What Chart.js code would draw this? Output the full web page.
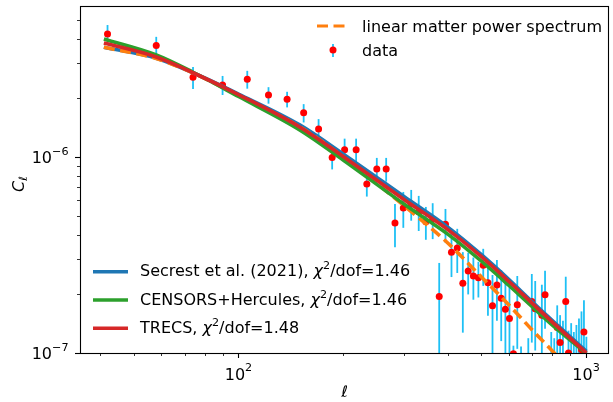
<!DOCTYPE html>
<html>
<head>
<meta charset="utf-8">
<script src="https://cdn.jsdelivr.net/npm/chart.js@4"></script>
<style>
  html, body { margin: 0; padding: 0; background: #fff; }
</style>
</head>
<body>
<canvas id="clChart" width="613" height="402"></canvas>
<script>
// binned angular power spectrum
const ell = [42, 58, 74, 90, 106, 122, 138, 154, 170, 186, 202, 218, 234, 250, 266, 282, 298, 314, 330, 346,
  362, 378, 394, 410, 426, 442, 458, 474, 490, 506, 522, 538, 554, 570, 586, 602, 618, 634, 650, 666,
  682, 698, 714, 730, 746, 762, 778, 794, 810, 826, 842, 858, 874, 890, 906, 922, 938, 954, 970, 986, 1002];
const cl = [4.24e-6, 3.70e-6, 2.55e-6, 2.33e-6, 2.49e-6, 2.07e-6, 1.97e-6, 1.68e-6, 1.39e-6, 0.994e-6,
  1.09e-6, 1.09e-6, 0.728e-6, 0.869e-6, 0.869e-6, 0.461e-6, 0.549e-6, 0.576e-6, 0.526e-6, 0.467e-6,
  0.481e-6, 0.194e-6, 0.454e-6, 0.327e-6, 0.343e-6, 0.227e-6, 0.262e-6, 0.247e-6, 0.242e-6, 0.280e-6,
  0.228e-6, 0.174e-6, 0.222e-6, 0.190e-6, 0.167e-6, 0.150e-6, 0.99e-7, 1.76e-7, 0.5e-7, 0.3e-7,
  0.6e-7, 1.83e-7, 1.68e-7, 0.5e-7, 1.56e-7, 1.98e-7, 0.4e-7, 0.7e-7, 0.6e-7, 1.35e-7,
  1.13e-7, 0.9e-7, 1.83e-7, 1.0e-7, 0.8e-7, 0.7e-7, 0.8e-7, 0.9e-7, 1.04e-7, 1.28e-7, 0.6e-7];
const clErr = [0.47e-6, 0.40e-6, 0.33e-6, 0.26e-6, 0.26e-6, 0.20e-6, 0.18e-6, 0.18e-6, 0.17e-6, 0.13e-6,
  0.15e-6, 0.15e-6, 0.10e-6, 0.12e-6, 0.12e-6, 0.115e-6, 0.114e-6, 0.103e-6, 0.107e-6, 0.089e-6,
  0.10e-6, 0.094e-6, 0.089e-6, 0.083e-6, 0.087e-6, 0.10e-6, 0.063e-6, 0.06e-6, 0.05e-6, 0.06e-6,
  0.073e-6, 0.076e-6, 0.076e-6, 0.075e-6, 0.077e-6, 0.08e-6, 0.1e-7, 0.71e-7, 0.58e-7, 0.4e-7,
  0.59e-7, 0.70e-7, 0.65e-7, 0.4e-7, 0.67e-7, 0.65e-7, 0.4e-7, 0.58e-7, 0.59e-7, 0.40e-7,
  0.43e-7, 0.56e-7, 0.62e-7, 0.3e-7, 0.62e-7, 0.58e-7, 0.59e-7, 0.6e-7, 0.59e-7, 0.58e-7, 0.61e-7];

// model curves
const modelEll = [41, 58, 74, 100, 150, 200, 300, 400, 500, 600, 700, 800, 1002];
const linearPk = [3.628e-6, 3.181e-6, 2.683e-6, 2.060e-6, 1.423e-6, 1.0e-6, 0.5623e-6, 0.3641e-6, 0.2442e-6, 0.1757e-6, 0.1310e-6, 0.1024e-6, 0.0671e-6];
const secrest = [3.627e-6, 3.188e-6, 2.689e-6, 2.094e-6, 1.457e-6, 1.036e-6, 0.6266e-6, 0.4389e-6, 0.3173e-6, 0.2371e-6, 0.1825e-6, 0.1464e-6, 0.1019e-6];
const censors = [3.998e-6, 3.314e-6, 2.705e-6, 2.034e-6, 1.374e-6, 0.9655e-6, 0.5738e-6, 0.4042e-6, 0.2939e-6, 0.2210e-6, 0.1721e-6, 0.1388e-6, 0.0995e-6];
const trecs = [3.815e-6, 3.237e-6, 2.689e-6, 2.082e-6, 1.423e-6, 1.006e-6, 0.6049e-6, 0.4262e-6, 0.3099e-6, 0.2316e-6, 0.1793e-6, 0.1438e-6, 0.1001e-6];

// axis ticks
const xMajorTicks = [100, 1000];
const xTickExp = ['2', '3'];
const xMinorTicks = [40, 50, 60, 70, 80, 90, 200, 300, 400, 500, 600, 700, 800, 900];
const yMajorTicks = [1e-7, 1e-6];
const yTickExp = ['\u22127', '\u22126'];
const yMinorTicks = [2e-7, 3e-7, 4e-7, 5e-7, 6e-7, 7e-7, 8e-7, 9e-7, 2e-6, 3e-6, 4e-6, 5e-6];

const modelLabels = [
  ['Secrest et al. (2021), ', '/dof=1.46', '#1f77b4'],
  ['CENSORS+Hercules, ', '/dof=1.46', '#2ca02c'],
  ['TRECS, ', '/dof=1.48', '#d62728'],
];

const FONT = '"DejaVu Sans", sans-serif';
const ERR_COLOR = '#1ec0f5';

const pts = (xs, ys) => xs.map((x, i) => ({ x: x, y: ys[i] }));

// text made of runs: [text, size, italic, rise]
function drawRuns(ctx, runs, x, y, align) {
  let total = 0;
  const widths = runs.map(r => {
    ctx.font = (r[2] ? 'italic ' : '') + r[1] + 'px ' + FONT;
    const w = ctx.measureText(r[0]).width;
    total += w;
    return w;
  });
  let cx = align === 'right' ? x - total : align === 'center' ? x - total / 2 : x;
  runs.forEach((r, i) => {
    ctx.font = (r[2] ? 'italic ' : '') + r[1] + 'px ' + FONT;
    ctx.fillText(r[0], cx, y - (r[3] || 0));
    cx += widths[i];
  });
}

const errorBars = {
  id: 'errorBars',
  beforeDatasetsDraw(chart) {
    const { ctx, chartArea: a, scales: { x, y } } = chart;
    ctx.save();
    ctx.beginPath();
    ctx.rect(a.left, a.top, a.right - a.left, a.bottom - a.top);
    ctx.clip();
    ctx.strokeStyle = ERR_COLOR;
    ctx.lineWidth = 1.8;
    ell.forEach((l, i) => {
      const px = x.getPixelForValue(l);
      const top = y.getPixelForValue(cl[i] + clErr[i]);
      const lo = cl[i] - clErr[i];
      const bot = lo > 0 ? y.getPixelForValue(lo) : a.bottom + 20;
      ctx.beginPath();
      ctx.moveTo(px, top);
      ctx.lineTo(px, Math.min(bot, a.bottom + 20));
      ctx.stroke();
    });
    ctx.restore();
  },
};

const axesFrame = {
  id: 'axesFrame',
  afterDraw(chart) {
    const { ctx, chartArea: a, scales: { x, y } } = chart;
    ctx.save();
    ctx.strokeStyle = '#000';
    ctx.fillStyle = '#000';

    // ticks
    const tick = (px, py, dx, dy, w) => {
      ctx.lineWidth = w;
      ctx.beginPath();
      ctx.moveTo(px, py);
      ctx.lineTo(px + dx, py + dy);
      ctx.stroke();
    };
    xMajorTicks.forEach(v => tick(Math.round(x.getPixelForValue(v)) + 0.5, a.bottom, 0, 5, 1.1));
    xMinorTicks.forEach(v => tick(Math.round(x.getPixelForValue(v)) + 0.5, a.bottom, 0, 3, 0.8));
    yMajorTicks.forEach(v => tick(a.left, Math.round(y.getPixelForValue(v)) + 0.5, -5, 0, 1.1));
    yMinorTicks.forEach(v => tick(a.left, Math.round(y.getPixelForValue(v)) + 0.5, -3, 0, 0.8));

    // frame
    ctx.lineWidth = 1.1;
    ctx.strokeRect(a.left + 0.5, a.top + 0.5, a.right - a.left - 1, a.bottom - a.top);

    // tick labels
    ctx.textBaseline = 'alphabetic';
    xMajorTicks.forEach((v, i) => {
      drawRuns(ctx, [['10', 16], [xTickExp[i], 11.2, false, 8.3]], x.getPixelForValue(v), a.bottom + 26.5, 'center');
    });
    yMajorTicks.forEach((v, i) => {
      drawRuns(ctx, [['10', 16], [yTickExp[i], 11.2, false, 8.3]], a.left - 11.5, y.getPixelForValue(v) + 6, 'right');
    });

    // axis titles
    drawRuns(ctx, [['\u2113', 16, true]], (a.left + a.right) / 2, 397, 'center');
    ctx.save();
    ctx.translate(23.5, 184);
    ctx.rotate(-Math.PI / 2);
    drawRuns(ctx, [['C', 16, true], ['\u2113', 11.2, true, -3]], 0, 0, 'center');
    ctx.restore();

    // upper legend
    ctx.strokeStyle = '#ff7f0e';
    ctx.lineWidth = 3;
    ctx.setLineDash([11, 5.5]);
    ctx.beginPath();
    ctx.moveTo(317, 26);
    ctx.lineTo(349, 26);
    ctx.stroke();
    ctx.setLineDash([]);
    ctx.strokeStyle = ERR_COLOR;
    ctx.lineWidth = 1.8;
    ctx.beginPath();
    ctx.moveTo(333, 44);
    ctx.lineTo(333, 57);
    ctx.stroke();
    ctx.fillStyle = 'red';
    ctx.beginPath();
    ctx.arc(333, 50, 3.5, 0, Math.PI * 2);
    ctx.fill();
    ctx.fillStyle = '#000';
    drawRuns(ctx, [['linear matter power spectrum', 16]], 362, 32, 'left');
    drawRuns(ctx, [['data', 16]], 362, 55.5, 'left');

    // model legend
    modelLabels.forEach((m, i) => {
      const yy = 271.7 + i * 28.3;
      ctx.strokeStyle = m[2];
      ctx.lineWidth = 3.4;
      ctx.beginPath();
      ctx.moveTo(93, yy);
      ctx.lineTo(128, yy);
      ctx.stroke();
      drawRuns(ctx, [[m[0], 16], ['\u03c7', 16, true], ['2', 11.2, false, 7], [m[1], 16]], 140, yy + 4.5, 'left');
    });
    ctx.restore();
  },
};

const lineSet = (label, data, color, order, dash) => ({
  label: label,
  data: pts(modelEll, data),
  showLine: true,
  borderColor: color,
  borderWidth: 3.6,
  borderDash: dash || [],
  pointRadius: 0,
  cubicInterpolationMode: 'monotone',
  clip: 0,
  order: order,
});

new Chart(document.getElementById('clChart'), {
  type: 'scatter',
  data: {
    datasets: [
      lineSet('TRECS', trecs, '#d62728', 0),
      lineSet('CENSORS+Hercules', censors, '#2ca02c', 1),
      lineSet('linear matter power spectrum', linearPk, '#ff7f0e', 2, [11, 5.5]),
      lineSet('Secrest et al. (2021)', secrest, '#1f77b4', 3),
      {
        label: 'data',
        data: pts(ell, cl),
        pointRadius: 3.5,
        pointBackgroundColor: 'red',
        pointBorderWidth: 0,
        showLine: false,
        clip: 0,
        order: 4,
      },
    ],
  },
  options: {
    responsive: false,
    devicePixelRatio: 1,
    animation: false,
    events: [],
    layout: { padding: { left: 0, right: 2, top: 6, bottom: 0 } },
    plugins: { legend: { display: false }, tooltip: { enabled: false } },
    scales: {
      x: {
        type: 'logarithmic',
        min: 35,
        max: 1164,
        grid: { display: false },
        border: { display: false },
        ticks: { display: false },
        afterFit: s => { s.height = 49; },
      },
      y: {
        type: 'logarithmic',
        min: 1e-7,
        max: 5.89e-6,
        grid: { display: false },
        border: { display: false },
        ticks: { display: false },
        afterFit: s => { s.width = 80; },
      },
    },
  },
  plugins: [errorBars, axesFrame],
});
</script>
</body>
</html>
